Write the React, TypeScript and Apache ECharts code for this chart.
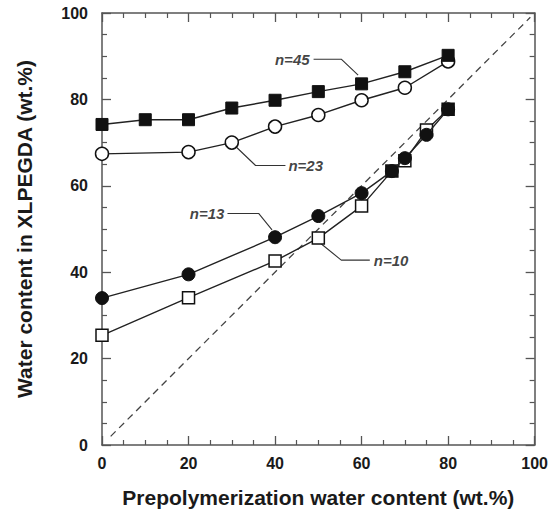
import React, { useEffect, useRef } from "react";
import * as echarts from "echarts";

const xN45 = [0, 10, 20, 30, 40, 50, 60, 70, 80];
const yN45 = [74.2, 75.3, 75.3, 78.0, 79.8, 81.8, 83.6, 86.4, 90.2];
const xN23 = [0, 20, 30, 40, 50, 60, 70, 80];
const yN23 = [67.4, 67.8, 70.0, 73.7, 76.4, 79.8, 82.7, 88.8];
const xN13 = [0, 20, 40, 50, 60, 67, 70, 75, 80];
const yN13 = [34.0, 39.5, 48.1, 53.0, 58.3, 63.4, 66.4, 71.8, 77.7];
const xN10 = [0, 20, 40, 50, 60, 67, 70, 75, 80];
const yN10 = [25.4, 34.1, 42.6, 47.9, 55.3, 63.4, 65.8, 72.9, 77.7];
const filledN10 = [5, 8];
const diagX = [2, 99];

const xTicks = [0, 20, 40, 60, 80, 100];
const yTicks = [0, 20, 40, 60, 80, 100];

const labels = ["n=45", "n=23", "n=13", "n=10"];
const leader45 = [[48.9, 89.3], [55.3, 89.3], [59.2, 85.6]];
const leader23 = [[30.9, 69.1], [35.5, 64.7], [42.4, 64.7]];
const leader13 = [[29.0, 53.6], [36.2, 53.6], [39.3, 49.8]];
const leader10 = [[50.0, 47.1], [55.3, 42.8], [61.9, 42.8]];

const FONT = "'Liberation Sans', Arial, Helvetica, sans-serif";

function pairs(xs: number[], ys: number[]) {
  return xs.map((x, i) => [x, ys[i]]);
}

export default function App() {
  const ref = useRef<HTMLDivElement>(null);
  useEffect(() => {
    if (!ref.current) return;
    const chart = echarts.init(ref.current, undefined, { renderer: "svg" });
    const axisCommon = {
      type: "value" as const,
      min: xTicks[0],
      max: xTicks[xTicks.length - 1],
      interval: 20,
      splitLine: { show: false },
      axisLine: { show: true, onZero: false, lineStyle: { color: "#555", width: 1.5 } },
      axisTick: { show: true, inside: true, length: 9, lineStyle: { color: "#555", width: 1.3 } },
      minorTick: { show: true, splitNumber: 4, length: 5, lineStyle: { color: "#555", width: 1.2 } },
      minorSplitLine: { show: false },
    };
    const labelStyle = { fontFamily: FONT, fontWeight: "bold" as const, fontSize: 16, color: "#1a1a1a" };
    const nameStyle = { fontFamily: FONT, fontWeight: "bold" as const, fontSize: 21, color: "#1a1a1a" };
    const lineColor = "#222";
    const leaderSeries = (d: number[][]) => ({
      type: "line",
      data: d,
      symbol: "none",
      lineStyle: { color: "#333", width: 1.1 },
      z: 1,
      silent: true,
    });
    const textSeries = (pt: number[], text: string, pos: string, dist: number) => ({
      type: "scatter",
      data: [pt],
      symbolSize: 0,
      z: 5,
      label: {
        show: true,
        position: pos,
        distance: dist,
        formatter: text,
        fontFamily: FONT,
        fontWeight: "bold",
        fontStyle: "italic",
        fontSize: 15,
        color: "#111",
      },
    });
    chart.setOption({
      animation: false,
      backgroundColor: "#fff",
      grid: { left: 102, right: 13, top: 13, bottom: 68, containLabel: false },
      xAxis: [
        {
          ...axisCommon,
          position: "bottom",
          axisLabel: { ...labelStyle, margin: 10 },
          name: "Prepolymerization water content (wt.%)",
          nameLocation: "middle",
          nameGap: 42,
          nameTextStyle: nameStyle,
        },
        { ...axisCommon, position: "top", axisLabel: { show: false } },
      ],
      yAxis: [
        {
          ...axisCommon,
          min: yTicks[0],
          max: yTicks[yTicks.length - 1],
          position: "left",
          axisLabel: { ...labelStyle, margin: 14 },
          name: "Water content in XLPEGDA (wt.%)",
          nameLocation: "middle",
          nameGap: 67,
          nameTextStyle: nameStyle,
        },
        { ...axisCommon, min: yTicks[0], max: yTicks[yTicks.length - 1], position: "right", axisLabel: { show: false } },
      ],
      series: [
        {
          type: "line",
          data: pairs(diagX, diagX),
          symbol: "none",
          lineStyle: { color: "#444", width: 1.3, type: [7, 5] },
          z: 1,
          silent: true,
        },
        leaderSeries(leader45),
        leaderSeries(leader23),
        leaderSeries(leader13),
        leaderSeries(leader10),
        {
          type: "line",
          data: pairs(xN23, yN23),
          symbol: "circle",
          symbolSize: 13,
          lineStyle: { color: lineColor, width: 1.4 },
          itemStyle: { color: "#fff", borderColor: "#111", borderWidth: 1.5 },
          z: 2,
        },
        {
          type: "line",
          data: pairs(xN45, yN45),
          symbol: "rect",
          symbolSize: 12,
          lineStyle: { color: lineColor, width: 1.4 },
          itemStyle: { color: "#111", borderColor: "#111", borderWidth: 1 },
          z: 3,
        },
        {
          type: "line",
          data: xN10.map((x, i) =>
            filledN10.includes(i)
              ? { value: [x, yN10[i]], itemStyle: { color: "#111" } }
              : { value: [x, yN10[i]] }
          ),
          symbol: "rect",
          symbolSize: 12,
          lineStyle: { color: lineColor, width: 1.4 },
          itemStyle: { color: "#fff", borderColor: "#111", borderWidth: 1.5 },
          z: 2,
        },
        {
          type: "line",
          data: pairs(xN13, yN13),
          symbol: "circle",
          symbolSize: 13,
          lineStyle: { color: lineColor, width: 1.4 },
          itemStyle: { color: "#111", borderColor: "#111", borderWidth: 1 },
          z: 3,
        },
        textSeries(leader45[0], labels[0], "left", 4),
        textSeries(leader23[2], labels[1], "right", 3),
        textSeries(leader13[0], labels[2], "left", 3),
        textSeries(leader10[2], labels[3], "right", 4),
      ],
    });
    return () => chart.dispose();
  }, []);
  return <div ref={ref} style={{ width: 551, height: 513, position: "absolute", left: 0, top: 0 }} />;
}
